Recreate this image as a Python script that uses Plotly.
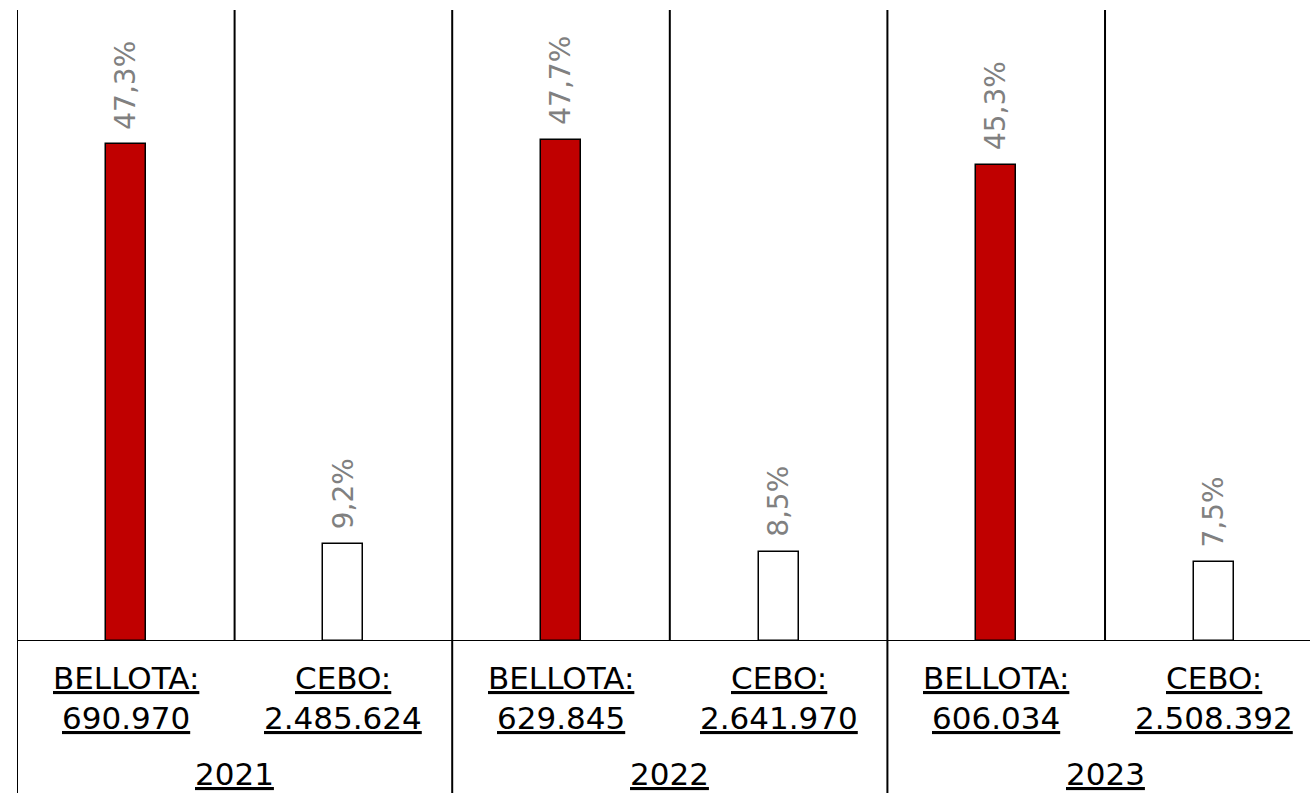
import plotly.graph_objects as go

years = ["2021", "2022", "2023"]
kinds = ["BELLOTA:", "CEBO:"]
pct_values = [47.3, 9.2, 47.7, 8.5, 45.3, 7.5]
pct_labels = ["47,3%", "9,2%", "47,7%", "8,5%", "45,3%", "7,5%"]
count_labels = ["690.970", "2.485.624", "629.845", "2.641.970", "606.034", "2.508.392"]
bar_colors = ["#C00000", "#FFFFFF", "#C00000", "#FFFFFF", "#C00000", "#FFFFFF"]

FONT = "DejaVu Sans"
x = list(range(len(pct_values)))

fig = go.Figure()
fig.add_trace(go.Bar(
    x=x, y=pct_values, width=0.184,
    marker=dict(color=bar_colors, line=dict(color="black", width=1.5)),
    hoverinfo="skip", showlegend=False,
))

ann = []
for i, (v, t) in enumerate(zip(pct_values, pct_labels)):
    ann.append(dict(x=i, y=v, xref="x", yref="y", text=t, showarrow=False,
                    textangle=-90, yanchor="bottom", xanchor="center", yshift=13,
                    font=dict(family=FONT, size=28, color="#808080")))
for i, c in enumerate(count_labels):
    k = kinds[i % 2]
    ann.append(dict(x=i, y=0, xref="x", yref="y", text="<u>" + k + "</u>", showarrow=False,
                    yanchor="middle", xanchor="center", yshift=-37,
                    font=dict(family=FONT, size=31, color="black")))
    ann.append(dict(x=i, y=0, xref="x", yref="y", text="<u>" + c + "</u>", showarrow=False,
                    yanchor="middle", xanchor="center", yshift=-77,
                    font=dict(family=FONT, size=31, color="black")))
for j, yr in enumerate(years):
    ann.append(dict(x=2 * j + 0.5, y=0, xref="x", yref="y", text="<u>" + yr + "</u>", showarrow=False,
                    yanchor="middle", xanchor="center", yshift=-133,
                    font=dict(family=FONT, size=31, color="black")))

shapes = []
bottom = -152 / 631
for j in range(len(years)):
    shapes.append(dict(type="line", xref="x", yref="paper", x0=2 * j - 0.5, x1=2 * j - 0.5,
                       y0=bottom, y1=1, line=dict(color="black", width=2)))
    shapes.append(dict(type="line", xref="x", yref="paper", x0=2 * j + 0.5, x1=2 * j + 0.5,
                       y0=0, y1=1, line=dict(color="black", width=2)))
shapes.append(dict(type="line", xref="paper", yref="y", x0=0, x1=1, y0=0, y1=0,
                   line=dict(color="black", width=2)))

fig.update_layout(
    width=1310, height=793,
    margin=dict(l=17, r=0, t=10, b=152),
    paper_bgcolor="white", plot_bgcolor="white",
    xaxis=dict(range=[-0.5, 5.442], showticklabels=False, showgrid=False, zeroline=False,
               showline=False, ticks=""),
    yaxis=dict(range=[0, 60.1], showticklabels=False, showgrid=False, zeroline=False,
               showline=False, ticks=""),
    annotations=ann, shapes=shapes, bargap=0,
)
fig.write_html("out.html", config={"displayModeBar": False},
               post_script="document.body.style.margin='0';document.body.style.overflow='hidden';")
